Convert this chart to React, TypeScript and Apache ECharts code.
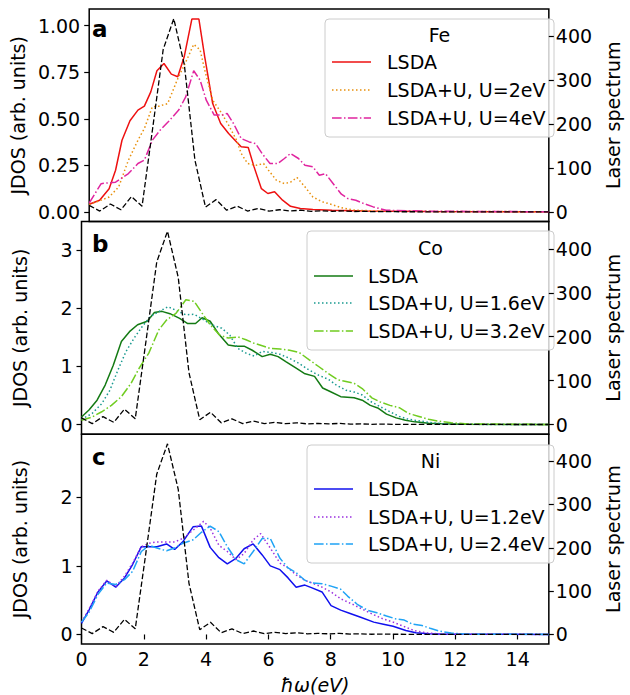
import React, { useEffect, useRef } from "react";
import * as echarts from "echarts";

// ---------- data (energy in eV, JDOS in arb. units, laser in its own units) ----------
const X_TICKS = [0, 2, 4, 6, 8, 10, 12, 14];
const RIGHT_TICKS = [0, 100, 200, 300, 400];
const FE_TICKS = [0, 0.25, 0.5, 0.75, 1.0];
const CO_TICKS = [0, 1, 2, 3];
const NI_TICKS = [0, 1, 2];

const laser: [number, number][] = [
  [0, 15], [0.345, 2], [0.69, 18], [1.035, 5], [1.38, 35], [1.725, 13], [2.07, 190], [2.415, 370],
  [2.76, 440], [3.105, 335], [3.45, 118], [3.795, 11], [4.14, 28], [4.485, 4], [4.83, 13], [5.175, 2],
  [5.52, 8], [5.865, 2], [6.21, 5], [6.555, 2], [6.9, 4], [7.245, 1.5], [7.59, 2.5], [7.935, 1.5],
  [8.28, 2.5], [8.625, 1], [8.97, 1.5], [9.315, 0.5], [9.66, 1], [10.0, 0.5], [11, 0.3], [12, 0.2], [15, 0.1],
];

const feLSDA: [number, number][] = [
  [0, 0.041], [0.34, 0.063], [0.65, 0.125], [0.86, 0.224], [1.07, 0.385], [1.33, 0.49], [1.59, 0.547],
  [1.8, 0.568], [2.01, 0.645], [2.21, 0.758], [2.44, 0.797], [2.68, 0.74], [2.89, 0.726], [3.1, 0.833],
  [3.35, 1.036], [3.58, 1.036], [3.77, 0.833], [4.03, 0.582], [4.29, 0.475], [4.55, 0.421], [4.81, 0.376],
  [4.96, 0.35], [5.19, 0.346], [5.38, 0.242], [5.62, 0.125], [5.83, 0.099], [6.05, 0.108], [6.31, 0.063],
  [6.57, 0.03], [6.89, 0.018], [7.3, 0.013], [7.92, 0.009], [9, 0.005], [11, 0.002], [15, 0.001],
];
const feU2: [number, number][] = [
  [0, 0.04], [0.34, 0.06], [0.65, 0.08], [0.96, 0.134], [1.28, 0.278], [1.59, 0.385], [1.8, 0.448],
  [2.06, 0.565], [2.28, 0.568], [2.56, 0.582], [2.87, 0.708], [3.18, 0.815], [3.41, 0.9], [3.62, 0.87],
  [3.77, 0.762], [4.03, 0.6], [4.29, 0.538], [4.55, 0.466], [4.81, 0.385], [4.96, 0.314], [5.17, 0.26],
  [5.43, 0.25], [5.69, 0.26], [5.85, 0.224], [6.11, 0.17], [6.37, 0.152], [6.57, 0.16], [6.78, 0.185],
  [7.04, 0.135], [7.3, 0.08], [7.61, 0.054], [7.92, 0.04], [8.24, 0.022], [8.65, 0.01], [9.5, 0.004], [15, 0.001],
];
const feU4: [number, number][] = [
  [0, 0.048], [0.39, 0.152], [0.86, 0.16], [1.28, 0.206], [1.59, 0.26], [1.8, 0.278], [2.06, 0.385],
  [2.32, 0.44], [2.58, 0.484], [2.92, 0.547], [3.15, 0.618], [3.41, 0.758], [3.62, 0.708], [3.82, 0.6],
  [4.08, 0.52], [4.34, 0.52], [4.5, 0.529], [4.71, 0.475], [4.96, 0.394], [5.22, 0.376], [5.43, 0.367],
  [5.64, 0.314], [5.9, 0.26], [6.16, 0.26], [6.37, 0.287], [6.57, 0.314], [6.83, 0.287], [7.04, 0.251],
  [7.3, 0.242], [7.51, 0.197], [7.71, 0.206], [7.92, 0.161], [8.23, 0.095], [8.44, 0.072], [8.7, 0.063],
  [8.96, 0.045], [9.27, 0.027], [9.69, 0.009], [11, 0.004], [15, 0.001],
];

const coLSDA: [number, number][] = [
  [0, 0.13], [0.24, 0.25], [0.5, 0.42], [0.76, 0.68], [1.02, 1.02], [1.28, 1.43], [1.54, 1.6], [1.8, 1.72],
  [2.11, 1.78], [2.34, 1.93], [2.58, 1.95], [2.84, 1.91], [3.15, 1.83], [3.41, 1.74], [3.66, 1.74],
  [3.87, 1.84], [4.13, 1.78], [4.39, 1.57], [4.71, 1.37], [4.96, 1.35], [5.22, 1.35], [5.48, 1.28],
  [5.8, 1.17], [6.06, 1.21], [6.31, 1.17], [6.57, 1.08], [6.89, 0.97], [7.15, 0.88], [7.48, 0.83],
  [7.74, 0.63], [7.98, 0.57], [8.32, 0.48], [8.75, 0.46], [9.01, 0.42], [9.27, 0.33], [9.53, 0.28],
  [9.79, 0.18], [10.1, 0.115], [10.4, 0.075], [10.7, 0.046], [11.14, 0.023], [11.55, 0.012], [12.2, 0.003], [15, 0.001],
];
const coU16: [number, number][] = [
  [0, 0.09], [0.34, 0.19], [0.65, 0.36], [0.91, 0.59], [1.17, 0.94], [1.43, 1.26], [1.69, 1.49], [1.95, 1.69],
  [2.21, 1.86], [2.5, 1.95], [2.78, 2.03], [3.1, 1.95], [3.35, 1.89], [3.62, 1.9], [3.87, 1.82], [4.18, 1.72],
  [4.5, 1.66], [4.76, 1.54], [5.02, 1.31], [5.28, 1.23], [5.54, 1.18], [5.8, 1.26], [6.11, 1.24], [6.37, 1.21],
  [6.68, 1.14], [6.99, 1.05], [7.3, 0.94], [7.61, 0.85], [7.92, 0.78], [8.18, 0.68], [8.49, 0.59], [8.75, 0.56],
  [9.01, 0.51], [9.27, 0.4], [9.58, 0.31], [9.9, 0.22], [10.2, 0.14], [10.5, 0.09], [10.88, 0.06], [11.25, 0.03],
  [11.66, 0.01], [12.5, 0.003], [15, 0.001],
];
const coU32: [number, number][] = [
  [0, 0.075], [0.34, 0.13], [0.65, 0.22], [0.96, 0.33], [1.28, 0.48], [1.59, 0.71], [1.85, 0.97], [2.16, 1.23],
  [2.48, 1.63], [2.73, 1.8], [3.04, 1.92], [3.35, 2.15], [3.62, 2.12], [3.87, 1.92], [4.13, 1.72], [4.44, 1.54],
  [4.71, 1.49], [5.02, 1.51], [5.28, 1.46], [5.54, 1.4], [5.85, 1.35], [6.06, 1.31], [6.37, 1.3], [6.68, 1.28],
  [6.99, 1.24], [7.3, 1.12], [7.61, 1.0], [7.92, 0.88], [8.23, 0.77], [8.49, 0.74], [8.75, 0.71], [9.01, 0.62],
  [9.32, 0.46], [9.58, 0.39], [9.9, 0.33], [10.2, 0.29], [10.5, 0.19], [10.83, 0.14], [11.14, 0.09], [11.45, 0.06],
  [11.87, 0.03], [12.4, 0.01], [15, 0.001],
];

const niLSDA: [number, number][] = [
  [0, 0.163], [0.24, 0.355], [0.53, 0.62], [0.81, 0.78], [1.1, 0.69], [1.38, 0.825], [1.64, 1.02], [1.92, 1.28],
  [2.17, 1.28], [2.42, 1.28], [2.73, 1.32], [2.99, 1.24], [3.25, 1.35], [3.58, 1.57], [3.85, 1.58], [4.13, 1.27],
  [4.41, 1.12], [4.68, 1.03], [4.96, 1.11], [5.22, 1.25], [5.51, 1.32], [5.8, 1.16], [6.06, 1.0], [6.37, 0.945],
  [6.63, 0.825], [6.89, 0.69], [7.17, 0.72], [7.4, 0.68], [7.72, 0.62], [8.01, 0.42], [8.32, 0.355], [8.6, 0.31],
  [8.96, 0.25], [9.38, 0.18], [9.69, 0.15], [10.0, 0.12], [10.41, 0.058], [10.73, 0.024], [11.14, 0.01],
  [11.66, 0.004], [15, 0.001],
];
const niU12: [number, number][] = [
  [0, 0.18], [0.24, 0.37], [0.53, 0.63], [0.81, 0.79], [1.1, 0.7], [1.38, 0.85], [1.64, 1.04], [1.92, 1.28],
  [2.17, 1.33], [2.42, 1.35], [2.73, 1.35], [2.99, 1.35], [3.25, 1.4], [3.58, 1.52], [3.92, 1.65], [4.13, 1.55],
  [4.41, 1.3], [4.68, 1.21], [4.96, 1.09], [5.22, 1.18], [5.51, 1.38], [5.75, 1.47], [6.06, 1.26], [6.37, 1.04],
  [6.63, 0.97], [6.89, 0.87], [7.17, 0.79], [7.4, 0.75], [7.72, 0.69], [8.01, 0.62], [8.32, 0.52], [8.7, 0.44],
  [9.01, 0.37], [9.32, 0.3], [9.69, 0.225], [10.0, 0.18], [10.36, 0.115], [10.67, 0.058], [11.04, 0.024],
  [11.45, 0.01], [12, 0.003], [15, 0.001],
];
const niU24: [number, number][] = [
  [0, 0.18], [0.24, 0.32], [0.53, 0.585], [0.81, 0.75], [1.1, 0.73], [1.38, 0.8], [1.64, 0.92], [1.92, 1.21],
  [2.17, 1.3], [2.42, 1.26], [2.73, 1.22], [2.99, 1.26], [3.25, 1.33], [3.58, 1.38], [3.85, 1.49], [4.13, 1.58],
  [4.41, 1.5], [4.68, 1.28], [4.96, 1.09], [5.22, 1.03], [5.51, 1.21], [5.8, 1.4], [6.06, 1.4], [6.37, 1.11],
  [6.63, 0.97], [6.89, 0.9], [7.17, 0.79], [7.4, 0.75], [7.72, 0.74], [8.01, 0.705], [8.32, 0.66], [8.54, 0.56],
  [8.85, 0.44], [9.17, 0.355], [9.48, 0.317], [9.79, 0.27], [10.1, 0.225], [10.36, 0.21], [10.62, 0.15],
  [10.93, 0.13], [11.19, 0.09], [11.5, 0.048], [11.87, 0.02], [12.4, 0.005], [15, 0.001],
];

// ---------- styling / layout ----------
const FONT = '"DejaVu Sans", Verdana, sans-serif';
const FS = 19;
const LW = 1.5;
const DASH: Record<string, any> = {
  solid: "solid",
  dotted: [1.5, 2.5],
  dashed: [5.5, 2.4],
  dashdot: [9.6, 2.4, 1.5, 2.4],
};
const GRID_LEFT = 81.5;
const GRID_WIDTH = 482.5;
const GRID_TOPS = [9, 221.6, 434.3];
const GRID_H = 212.6;
const LASER_MAX = 440;

const PANELS = [
  {
    letter: "a", letterY: 35, title: "Fe", ticks: FE_TICKS, decimals: 2, top: 1.038,
    series: [
      { name: "LSDA", data: feLSDA, color: "#ee1111", dash: "solid" },
      { name: "LSDA+U, U=2eV", data: feU2, color: "#e8900c", dash: "dotted" },
      { name: "LSDA+U, U=4eV", data: feU4, color: "#e0259f", dash: "dashdot" },
    ],
    box: { x: 325, y: 19, w: 229, h: 118 }, rows: [62, 90, 118], sx: 332, tx: 387, titleY: 35,
  },
  {
    letter: "b", letterY: 250, title: "Co", ticks: CO_TICKS, decimals: 0, top: 3.33,
    series: [
      { name: "LSDA", data: coLSDA, color: "#137a13", dash: "solid" },
      { name: "LSDA+U, U=1.6eV", data: coU16, color: "#1a9a90", dash: "dotted" },
      { name: "LSDA+U, U=3.2eV", data: coU32, color: "#70cc20", dash: "dashdot" },
    ],
    box: { x: 307, y: 231, w: 247, h: 119 }, rows: [276, 303, 331], sx: 314, tx: 368, titleY: 248,
  },
  {
    letter: "c", letterY: 463, title: "Ni", ticks: NI_TICKS, decimals: 0, top: 2.78,
    series: [
      { name: "LSDA", data: niLSDA, color: "#1010ee", dash: "solid" },
      { name: "LSDA+U, U=1.2eV", data: niU12, color: "#9b30e0", dash: "dotted" },
      { name: "LSDA+U, U=2.4eV", data: niU24, color: "#1fa3f5", dash: "dashdot" },
    ],
    box: { x: 307, y: 445, w: 247, h: 118 }, rows: [489, 517, 544], sx: 314, tx: 368, titleY: 461,
  },
];

function buildOption() {
  const grid: any[] = [];
  const xAxis: any[] = [];
  const yAxis: any[] = [];
  const series: any[] = [];
  const graphic: any[] = [];
  const txt = { color: "#000", fontSize: FS, fontFamily: FONT };

  PANELS.forEach((p, i) => {
    const last = i === PANELS.length - 1;
    grid.push({
      left: GRID_LEFT, width: GRID_WIDTH, top: GRID_TOPS[i], height: GRID_H,
      show: true, borderColor: "#000", borderWidth: 1.5, backgroundColor: "transparent",
    });
    xAxis.push({
      type: "value", gridIndex: i, min: 0, max: 15,
      axisLine: { show: false }, splitLine: { show: false },
      axisTick: { show: last, length: 5, customValues: X_TICKS, lineStyle: { color: "#000", width: 1.2 } },
      axisLabel: { show: last, margin: 5, customValues: X_TICKS, ...txt },
      name: last ? "ħω(eV)" : "", nameLocation: "middle", nameGap: 31,
      nameTextStyle: { ...txt, fontStyle: "italic" },
    });
    const lmin = -0.05 * p.top;
    const lmax = 1.05 * p.top;
    yAxis.push({
      type: "value", gridIndex: i, position: "left", min: lmin, max: lmax,
      axisLine: { show: false }, splitLine: { show: false },
      axisTick: { show: true, length: 5, customValues: p.ticks, lineStyle: { color: "#000", width: 1.2 } },
      axisLabel: {
        show: true, margin: 9, customValues: p.ticks, ...txt,
        formatter: (v: number) => v.toFixed(p.decimals),
      },
      name: "JDOS (arb. units)", nameLocation: "middle", nameGap: 52, nameTextStyle: txt,
    });
    yAxis.push({
      type: "value", gridIndex: i, position: "right", min: -0.05 * LASER_MAX, max: 1.05 * LASER_MAX,
      axisLine: { show: false }, splitLine: { show: false },
      axisTick: { show: true, length: 5, customValues: RIGHT_TICKS, lineStyle: { color: "#000", width: 1.2 } },
      axisLabel: {
        show: true, margin: 7, customValues: RIGHT_TICKS, ...txt,
        formatter: (v: number) => String(Math.round(v)),
      },
      name: "Laser spectrum", nameLocation: "middle", nameGap: 45, nameTextStyle: txt,
    });
    p.series.forEach((s, k) => {
      series.push({
        type: "line", name: s.name + "-" + p.title, xAxisIndex: i, yAxisIndex: 2 * i,
        data: s.data, showSymbol: false, symbol: "none", silent: true, z: 2 + k,
        lineStyle: { color: s.color, width: LW, type: DASH[s.dash] },
      });
    });
    series.push({
      type: "line", name: "laser-" + p.title, xAxisIndex: i, yAxisIndex: 2 * i + 1,
      data: laser, showSymbol: false, symbol: "none", silent: true, z: 6,
      lineStyle: { color: "#000", width: 1.3, type: DASH.dashed },
    });

    // panel letter
    graphic.push({
      type: "text", x: 92, y: p.letterY + 5, z: 50,
      style: { text: p.letter, fill: "#000", font: `bold 23px ${FONT}`, align: "left", verticalAlign: "bottom" },
    });
    // legend
    const children: any[] = [
      {
        type: "rect", shape: { x: p.box.x, y: p.box.y, width: p.box.w, height: p.box.h, r: 4 },
        style: { fill: "rgba(255,255,255,0.8)", stroke: "#cccccc", lineWidth: 1 },
      },
      {
        type: "text", x: p.box.x + p.box.w / 2, y: p.titleY,
        style: { text: p.title, fill: "#000", font: `${FS}px ${FONT}`, align: "center", verticalAlign: "middle" },
      },
    ];
    p.series.forEach((s, k) => {
      const dash = DASH[s.dash];
      children.push({
        type: "line", shape: { x1: p.sx, y1: p.rows[k], x2: p.sx + 39, y2: p.rows[k] },
        style: { stroke: s.color, lineWidth: LW, lineDash: dash === "solid" ? null : dash },
      });
      children.push({
        type: "text", x: p.tx, y: p.rows[k],
        style: { text: s.name, fill: "#000", font: `${FS}px ${FONT}`, align: "left", verticalAlign: "middle" },
      });
    });
    graphic.push({ type: "group", z: 100, children });
  });

  return { animation: false, backgroundColor: "#fff", grid, xAxis, yAxis, series, graphic };
}

export default function App() {
  const ref = useRef<HTMLDivElement>(null);
  useEffect(() => {
    const chart = echarts.init(ref.current!, null, { renderer: "svg" });
    chart.setOption(buildOption() as any);
    return () => chart.dispose();
  }, []);
  return <div ref={ref} style={{ position: "fixed", left: 0, top: 0, width: 630, height: 695 }} />;
}
